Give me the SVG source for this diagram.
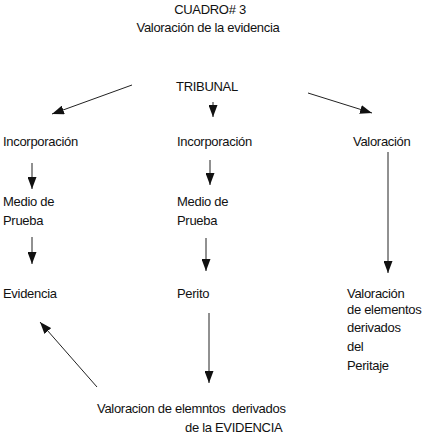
<svg xmlns="http://www.w3.org/2000/svg" width="429" height="437" viewBox="0 0 429 437">
<style>
text{font-family:"Liberation Sans",Arial,sans-serif;font-size:13px;fill:#111;letter-spacing:-0.3px;white-space:pre}
.c line{stroke:#222;stroke-width:1;marker-end:url(#ah)}
</style>
<defs>
<marker id="ah" viewBox="0 0 12 9" refX="12" refY="4.5" markerWidth="12" markerHeight="9" markerUnits="userSpaceOnUse" orient="auto">
<path d="M0,0 L12,4.5 L0,9 z" fill="#111"/>
</marker>
</defs>
<rect width="429" height="437" fill="#fff"/>
<g id="title">
<text x="210" y="14" text-anchor="middle">CUADRO# 3</text>
<text x="208" y="32" text-anchor="middle">Valoración de la evidencia</text>
</g>
<g id="tribunal"><text x="176" y="91">TRIBUNAL</text></g>
<g id="incorporacion1"><text x="3" y="146">Incorporación</text></g>
<g id="incorporacion2"><text x="177" y="146">Incorporación</text></g>
<g id="valoracion1"><text x="353" y="146">Valoración</text></g>
<g id="medio1"><text x="3" y="206">Medio de</text><text x="3" y="225">Prueba</text></g>
<g id="medio2"><text x="177" y="206">Medio de</text><text x="177" y="225">Prueba</text></g>
<g id="evidencia"><text x="3" y="298">Evidencia</text></g>
<g id="perito"><text x="177" y="298">Perito</text></g>
<g id="valoracion2">
<text x="347" y="298">Valoración</text>
<text x="347" y="314">de elementos</text>
<text x="347" y="332">derivados</text>
<text x="347" y="351">del</text>
<text x="347" y="370">Peritaje</text>
</g>
<g id="valoracion3">
<text x="97" y="413" xml:space="preserve">Valoracion de elemntos  derivados</text>
<text x="185" y="432">de la EVIDENCIA</text>
</g>
<g class="c" id="connectors">
<line x1="132" y1="85" x2="52" y2="114"/>
<line x1="213" y1="102" x2="213" y2="117"/>
<line x1="308" y1="93" x2="372" y2="113"/>
<line x1="32" y1="163" x2="32" y2="189"/>
<line x1="32" y1="237" x2="32" y2="264"/>
<line x1="210" y1="160" x2="210" y2="185"/>
<line x1="206" y1="238" x2="206" y2="271"/>
<line x1="388" y1="152" x2="388" y2="273"/>
<line x1="209" y1="313" x2="209" y2="383"/>
<line x1="97" y1="387" x2="40" y2="322"/>
</g>
</svg>
